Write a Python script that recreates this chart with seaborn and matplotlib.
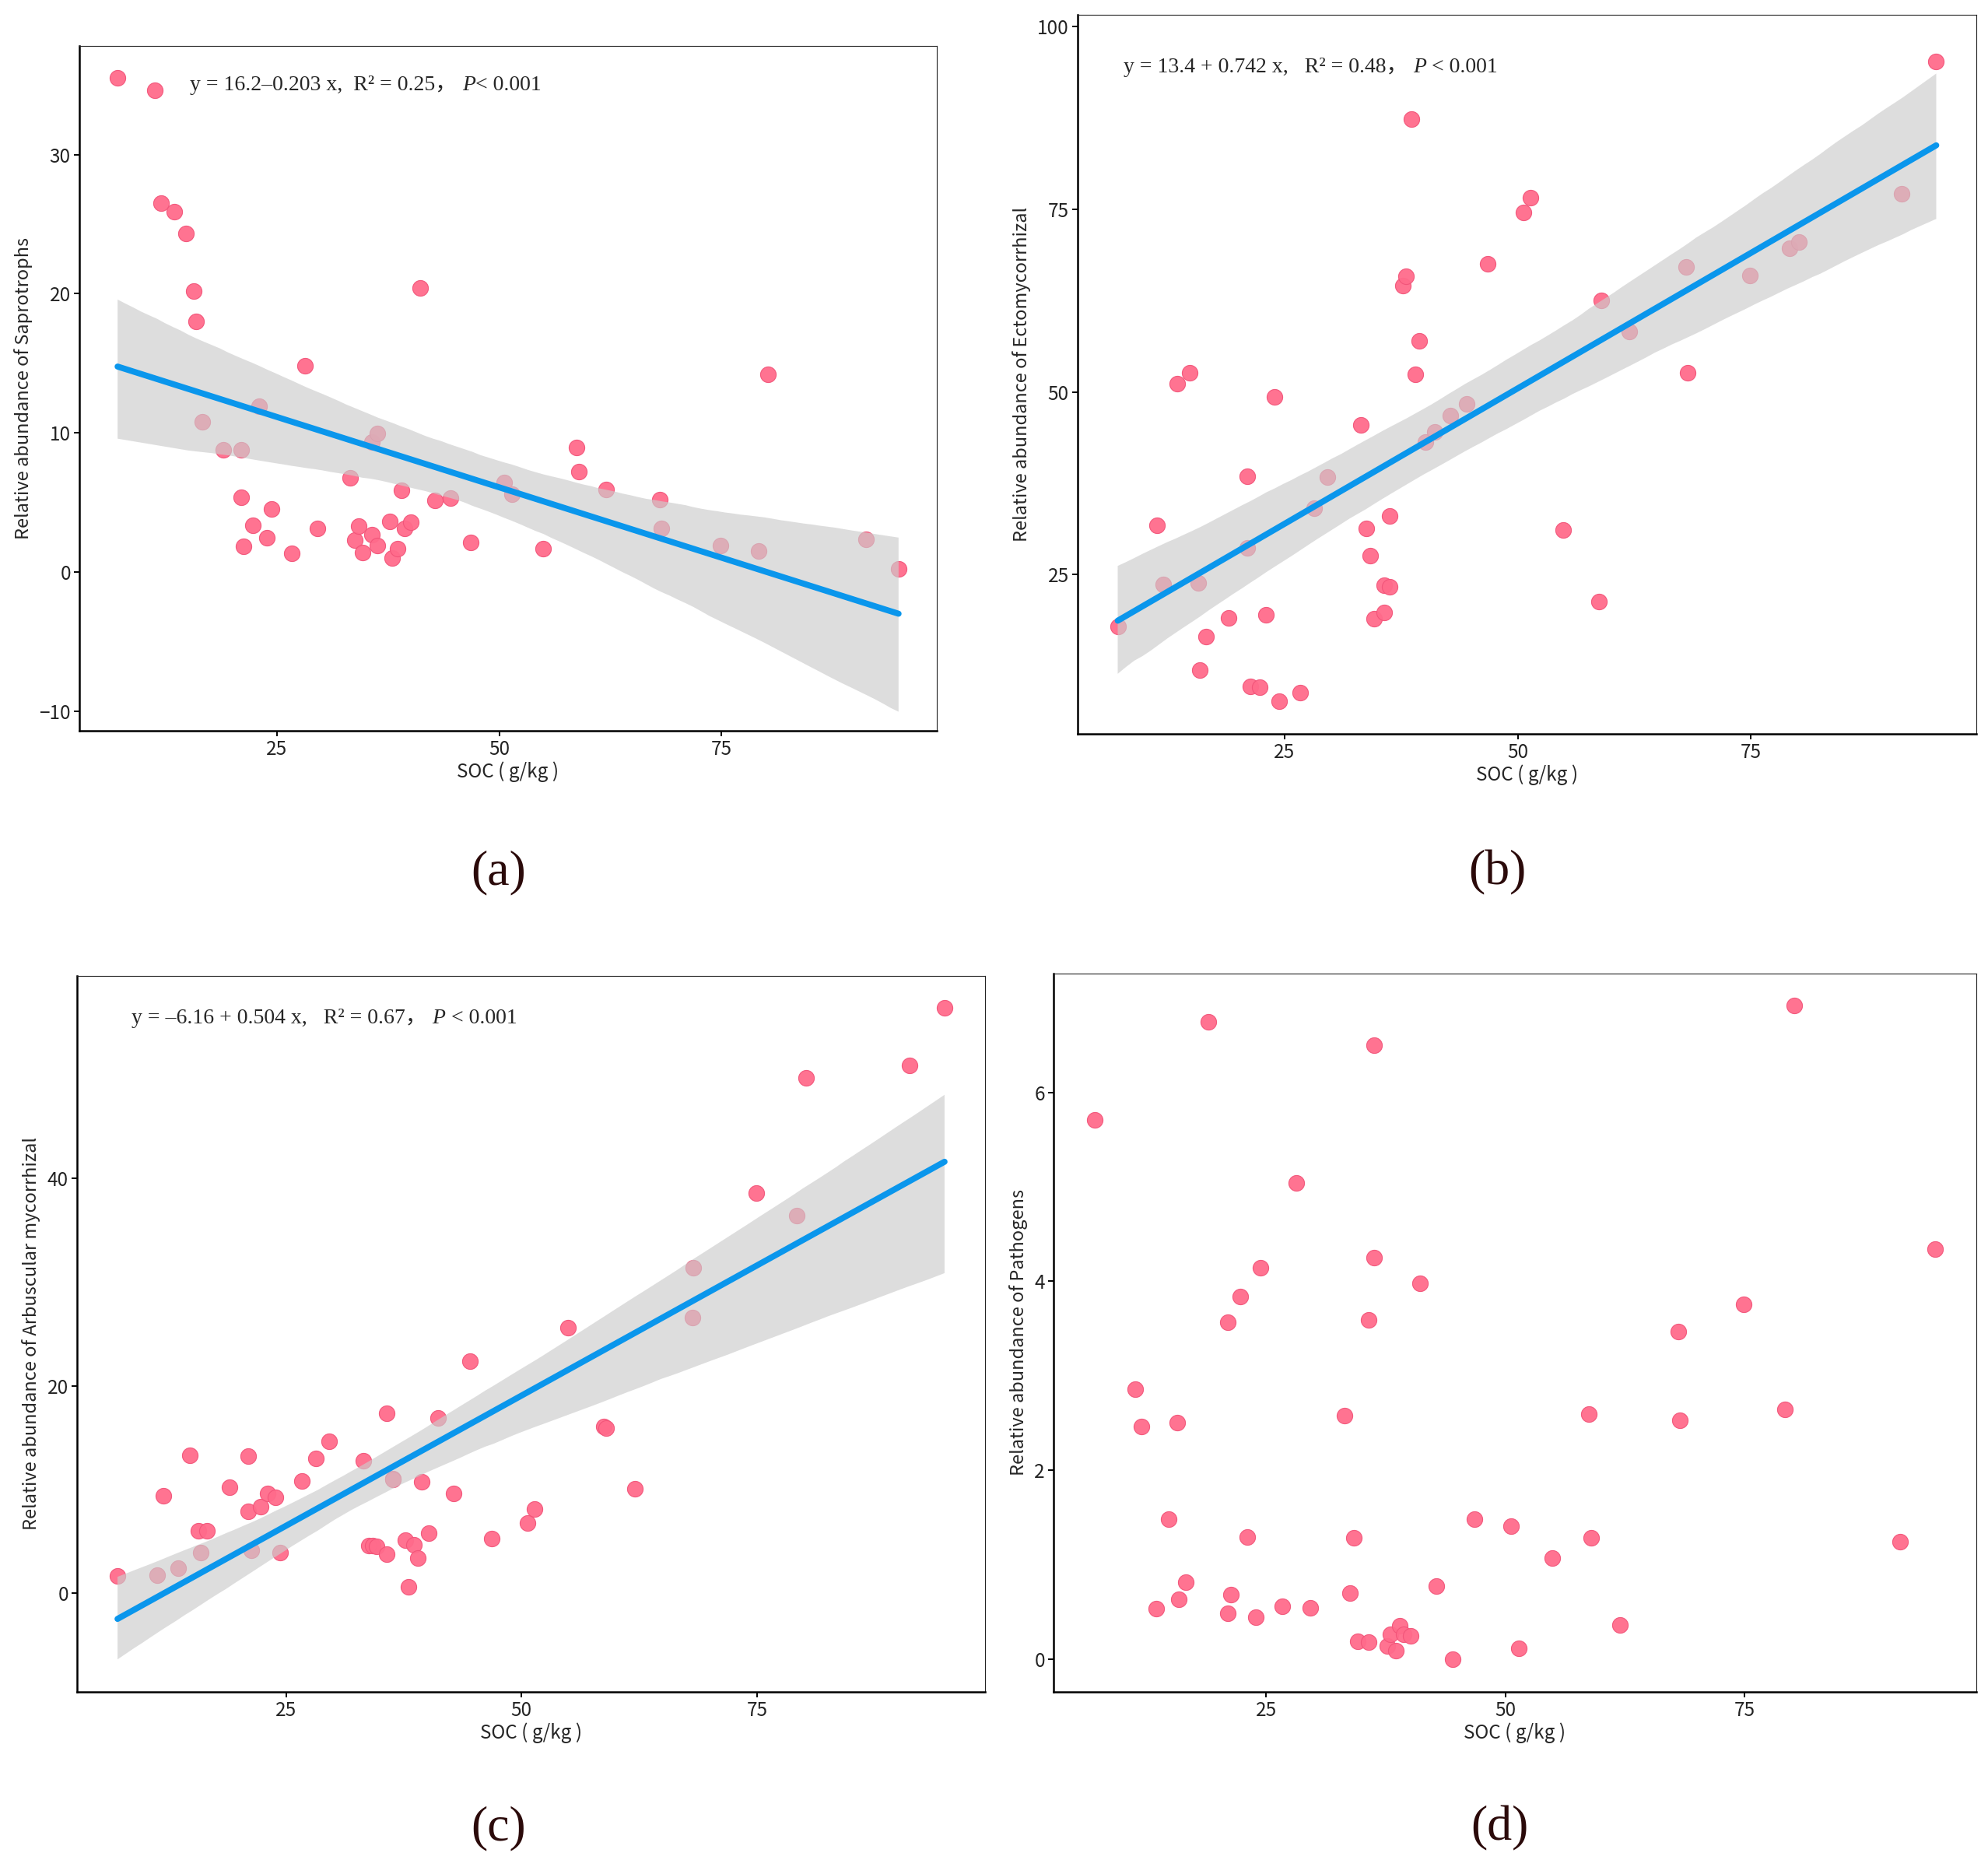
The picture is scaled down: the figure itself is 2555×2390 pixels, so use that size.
import numpy as np
import matplotlib
matplotlib.use("Agg")
import matplotlib.pyplot as plt
import seaborn as sns

# SOC (g/kg), shared by all four panels
soc = [7.1, 11.3, 12.0, 13.5, 14.8, 15.7, 15.9, 16.6, 19.0, 21.0,
       21.0, 21.3, 22.3, 23.0, 23.9, 24.4, 26.7, 28.2, 29.6, 33.2,
       33.8, 34.2, 34.6, 35.7, 35.7, 36.3, 36.3, 37.7, 38.0, 38.6,
       39.0, 39.4, 40.1, 41.1, 42.8, 44.5, 46.8, 50.6, 51.4, 54.9,
       58.7, 59.0, 62.0, 68.1, 68.2, 74.9, 79.2, 80.2, 91.2, 94.9]

saprotrophs = [35.5, 34.6, 26.5, 25.9, 24.3, 20.2, 18.0, 10.8, 8.76, 8.76,
               5.36, 1.87, 3.36, 11.9, 2.47, 4.55, 1.32, 14.8, 3.15, 6.76,
               2.30, 3.32, 1.40, 2.68, 9.35, 9.95, 1.91, 3.66, 1.02, 1.66,
               5.87, 3.15, 3.57, 20.4, 5.14, 5.31, 2.13, 6.42, 5.61, 1.66,
               8.93, 7.23, 5.95, 5.19, 3.15, 1.91, 1.53, 14.2, 2.34, 0.21]

ectomycorrhizal = [17.9, 31.7, 23.6, 51.1, 52.6, 23.9, 11.9, 16.5, 19.1, 38.4,
                   28.7, 9.7, 9.6, 19.5, 49.3, 7.7, 8.8, 34.1, 38.3, 45.5,
                   31.3, 27.6, 19.0, 19.8, 23.5, 23.3, 33.0, 64.5, 65.8, 87.3,
                   52.4, 57.0, 43.1, 44.5, 46.8, 48.4, 67.5, 74.5, 76.6, 31.1,
                   21.3, 62.5, 58.3, 67.1, 52.6, 65.9, 69.6, 70.5, 77.1, 95.2]

arbuscular = [1.66, 1.72, 9.39, 2.40, 13.3, 6.0, 3.89, 6.0, 10.2, 13.2,
              7.9, 4.18, 8.36, 9.6, 9.27, 3.89, 10.8, 13.0, 14.65, 12.8,
              4.58, 4.58, 4.50, 17.35, 3.78, 11.08, 11.0, 5.13, 0.61, 4.66,
              3.40, 10.75, 5.78, 16.9, 9.66, 22.4, 5.27, 6.81, 8.13, 25.6,
              16.1, 15.9, 10.1, 26.6, 31.4, 38.6, 36.4, 49.7, 50.9, 56.4]

pathogens = [5.71, 2.86, 2.46, 0.53, 1.48, 2.50, 0.63, 0.81, 6.75, 3.57,
             0.48, 0.68, 3.84, 1.29, 0.44, 4.14, 0.56, 5.04, 0.54, 2.58,
             0.70, 1.28, 0.19, 3.59, 0.18, 4.25, 6.50, 0.14, 0.26, 0.09,
             0.35, 0.26, 0.24, 3.98, 0.77, 0.00, 1.48, 1.41, 0.11, 1.07,
             2.59, 1.28, 0.36, 3.47, 2.53, 3.76, 2.64, 6.92, 1.24, 4.34]

ylabels = ["Relative abundance of Saprotrophs",
           "Relative abundance of Ectomycorrhizal",
           "Relative abundance of Arbuscular mycorrhizal",
           "Relative abundance of Pathogens"]
equations = ["y = 16.2\u20130.203 x,  R\u00b2 = 0.25\uff0c ",
             "y = 13.4 + 0.742 x,   R\u00b2 = 0.48\uff0c ",
             "y = \u20136.16 + 0.504 x,   R\u00b2 = 0.67\uff0c ",
             None]
p_tails = ["< 0.001", " < 0.001", " < 0.001", None]
panel_tags = ["(a)", "(b)", "(c)", "(d)"]
yticks = [[-10, 0, 10, 20, 30], [25, 50, 75, 100], [0, 20, 40], [0, 2, 4, 6]]
ylims = [(-11.4, 37.8), (3.2, 101.6), (-9.5, 59.5), (-0.35, 7.26)]

W, H = 2555, 2390
# axes boxes in pixels: left, right, top, bottom
boxes = [(102, 1204, 59, 939), (1385, 2540, 19, 943),
         (99, 1266, 1254, 2174), (1354, 2540, 1251, 2174)]
eq_pos = [(0.129, 0.935), (0.051, 0.920), (0.060, 0.934), None]
tag_pos = [(641, 1121), (1924, 1121), (641, 2349), (1927, 2349)]

sns.set_style("ticks")
plt.rcParams["font.family"] = ["Noto Sans CJK SC", "DejaVu Sans"]

fig = plt.figure(figsize=(W / 100, H / 100), dpi=100)
series = [saprotrophs, ectomycorrhizal, arbuscular, pathogens]

point_color = "#FF6B8B"
line_color = "#0A96EC"
serif = ["Liberation Serif", "Noto Sans CJK SC"]
EQ_FS = 20

for i, yv in enumerate(series):
    l, r, t, b = boxes[i]
    ax = fig.add_axes([l / W, 1 - b / H, (r - l) / W, (b - t) / H])
    sns.scatterplot(x=soc, y=yv, ax=ax, s=210, color=point_color,
                    edgecolor="#F25479", linewidth=0.8, alpha=0.95, zorder=1)
    if equations[i] is not None:
        sns.regplot(x=soc, y=yv, ax=ax, scatter=False, seed=1, n_boot=2000,
                    color=line_color, line_kws={"lw": 5.6, "zorder": 3})
        # grey confidence ribbon drawn over the points
        for coll in ax.collections[1:]:
            coll.set_alpha(None)
            coll.set_facecolor((0.80, 0.80, 0.80, 0.66))
            coll.set_edgecolor("none")
            coll.set_zorder(2)
        ex, ey = eq_pos[i]
        t1 = ax.text(ex, ey, equations[i], transform=ax.transAxes,
                     ha="left", va="baseline", fontsize=EQ_FS, family=serif)
        t2 = ax.annotate("P", xy=(1, ey), xycoords=(t1, ax.transAxes),
                         ha="left", va="baseline", fontsize=EQ_FS,
                         family="Liberation Serif", style="italic")
        ax.annotate(p_tails[i], xy=(1, ey), xycoords=(t2, ax.transAxes),
                    ha="left", va="baseline", fontsize=EQ_FS,
                    family="Liberation Serif")

    ax.set_xlim(2.8, 99.2)
    ax.set_ylim(*ylims[i])
    ax.set_xticks([25, 50, 75])
    ax.set_yticks(yticks[i])
    ax.set_xlabel("SOC ( g/kg )", fontsize=17.5, labelpad=2)
    ax.set_ylabel(ylabels[i], fontsize=17, labelpad=6)
    ax.tick_params(axis="both", direction="out", length=5, width=1.4,
                   color="black", labelsize=17.5, pad=3, labelcolor="#222222")
    for side in ["left", "bottom"]:
        ax.spines[side].set_linewidth(1.8)
        ax.spines[side].set_color("black")
    for side in ["top", "right"]:
        ax.spines[side].set_visible(True)
        ax.spines[side].set_linewidth(0.8)
        ax.spines[side].set_color("#222222")
    ax.grid(False)

    tx, ty = tag_pos[i]
    fig.text(tx / W, 1 - ty / H, panel_tags[i], ha="center", va="center",
             fontsize=46, family="Liberation Serif", color="#2B0A0A")

fig.savefig("out.png", dpi=100, facecolor="white")
